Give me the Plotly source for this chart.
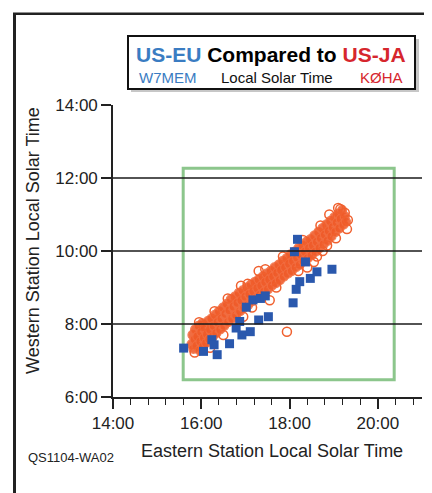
import plotly.graph_objects as go

# ---------------- data ----------------
x_ticks = [14, 16, 18, 20]
x_ticklabels = ["14:00", "16:00", "18:00", "20:00"]
y_ticks = [6, 8, 10, 12, 14]
y_ticklabels = ["6:00", "8:00", "10:00", "12:00", "14:00"]
grid_levels = [8, 10, 12]

# US-EU (W7MEM) - blue squares: eastern local solar time, western local solar time
eu_east = [15.60, 16.05, 16.24, 16.36, 16.64, 16.29, 16.79, 16.87, 16.92, 17.11, 17.02, 17.30,
           17.52, 17.17, 17.34, 17.45, 18.08, 18.15, 18.23, 18.36, 18.47, 18.62, 18.96, 18.11, 18.18]
eu_west = [7.34, 7.25, 7.57, 7.16, 7.46, 7.43, 7.89, 8.07, 7.70, 7.79, 8.46, 8.11,
           8.20, 8.66, 8.70, 8.77, 8.58, 8.95, 9.16, 9.70, 9.25, 9.43, 9.50, 9.98, 10.32]

# US-JA (K0HA) - orange filled circles
ja_east = [15.78, 15.80, 15.82, 15.85, 15.86, 15.89, 15.91, 15.94, 15.96, 15.98, 16.00, 16.02, 16.04, 16.06, 16.08,
           16.11, 16.13, 16.15, 16.18, 16.20, 16.23, 16.26, 16.28, 16.31, 16.34, 16.37, 16.40,
           16.43, 16.46, 16.49, 16.52, 16.55, 16.58, 16.61, 16.64, 16.67, 16.70, 16.73, 16.76, 16.79,
           16.82, 16.85, 16.88, 16.91, 16.94, 16.97, 17.00, 17.03, 17.06, 17.09, 17.12, 17.15, 17.18,
           17.21, 17.24, 17.27, 17.30, 17.33, 17.36, 17.39, 17.42, 17.45, 17.48, 17.51, 17.54, 17.57,
           17.60, 17.63, 17.66, 17.69, 17.72, 17.75, 17.78, 17.81, 17.84, 17.87, 17.90, 17.93, 17.96, 17.99,
           18.02, 18.05, 18.08, 18.11, 18.14, 18.17, 18.20, 18.23, 18.26, 18.29, 18.32, 18.35, 18.38, 18.41, 18.44, 18.47,
           18.50, 18.53, 18.56, 18.59, 18.62, 18.65, 18.68, 18.71, 18.74, 18.77, 18.80, 18.83, 18.86, 18.89, 18.92, 18.95, 18.98,
           19.01, 19.04, 19.07, 19.10, 19.13, 19.16, 19.19, 19.22, 19.25, 19.28]
ja_west = [7.45, 7.70, 7.32, 7.58, 7.85, 7.40, 7.66, 7.95, 7.28, 7.52, 7.78, 8.02, 7.38, 7.62, 7.90,
           7.48, 7.72, 8.08, 7.58, 7.85, 8.15, 7.65, 7.95, 8.25, 7.75, 8.05, 8.35,
           7.85, 8.15, 8.45, 7.95, 8.28, 8.55, 8.05, 8.38, 8.68, 8.15, 8.48, 8.75, 8.25,
           8.58, 8.85, 8.35, 8.65, 8.92, 8.45, 8.75, 9.00, 8.52, 8.82, 9.08, 8.62, 8.90,
           9.15, 8.70, 8.98, 9.22, 8.80, 9.05, 9.30, 8.88, 9.15, 9.38, 8.95, 9.22, 9.45,
           9.05, 9.30, 9.55, 9.12, 9.40, 9.62, 9.20, 9.48, 9.72, 9.30, 9.55, 9.80, 9.38, 9.65,
           9.90, 9.45, 9.72, 9.98, 9.55, 9.82, 10.08, 9.62, 9.90, 10.15, 9.72, 9.98, 10.25, 9.80, 10.08, 10.32,
           9.88, 10.15, 10.42, 9.98, 10.25, 10.52, 10.08, 10.35, 10.62, 10.18, 10.45, 10.72, 10.28, 10.55, 10.82, 10.40, 10.65,
           10.92, 10.52, 10.78, 11.02, 10.62, 10.88, 11.12, 10.72, 10.95, 10.80]

# US-JA (K0HA) - orange open circles
ja_open_east = [17.94, 18.55, 18.75, 19.30, 19.25, 18.40, 18.62, 17.55, 16.95, 16.50, 16.20, 15.85,
                19.05, 18.85, 19.32, 18.20, 17.70, 18.90, 19.10, 17.30, 16.90, 17.15,
                16.05, 16.30, 16.60, 17.05, 17.45, 17.85, 18.30, 18.70, 19.15, 15.95]
ja_open_west = [7.79, 9.70, 10.00, 10.60, 11.05, 9.55, 9.85, 8.65, 8.20, 7.70, 7.35, 7.22,
                10.35, 10.15, 10.85, 9.45, 9.00, 11.00, 11.18, 9.45, 9.05, 8.45,
                7.95, 8.35, 8.70, 9.10, 9.50, 9.85, 10.30, 10.70, 11.15, 8.05]

# region outline (green box) in data units
box_east = [15.59, 20.37]
box_west = [6.47, 12.27]

# ---------------- style ----------------
W, H = 432, 493
OFF = 8  # page body margin
ML, MR, MT, MB = 113 - OFF, 18, 105 - OFF, 104
PW, PH = W - ML - MR, H - MT - MB
FONT = "Liberation Sans, Arial, Helvetica, sans-serif"
BLUE_TXT = "#3a7cc2"
RED_TXT = "#d6262d"
ORANGE = "#ef5a28"
SQ_BLUE = "#2a58ad"


def px(xp):  # page pixel -> paper
    return (xp - OFF - ML) / PW


def py(yp):
    return (H - MB - (yp - OFF)) / PH


fig = go.Figure()

fig.add_trace(go.Scatter(
    x=ja_east, y=ja_west, mode="markers",
    marker=dict(symbol="circle", size=9, color=ORANGE, opacity=0.88,
                line=dict(width=1.2, color="#f26d40")),
    showlegend=False, name="US-JA"))
fig.add_trace(go.Scatter(
    x=ja_open_east, y=ja_open_west, mode="markers",
    marker=dict(symbol="circle-open", size=9, color="#f0602e", line=dict(width=1.5)),
    showlegend=False, hoverinfo="skip"))
fig.add_trace(go.Scatter(
    x=eu_east, y=eu_west, mode="markers",
    marker=dict(symbol="square", size=9, color=SQ_BLUE),
    showlegend=False, name="US-EU"))

shapes = []
# horizontal grid lines
for g in grid_levels:
    shapes.append(dict(type="line", xref="paper", yref="y", x0=0, x1=1, y0=g, y1=g,
                       line=dict(color="#1a1a1a", width=1.6), layer="above"))
# green box
shapes.append(dict(type="rect", xref="x", yref="y",
                   x0=box_east[0], x1=box_east[1], y0=box_west[0], y1=box_west[1],
                   line=dict(color="#8cc68c", width=3), layer="below"))
# outer frame (left and top)
shapes.append(dict(type="line", xref="paper", yref="paper",
                   x0=px(14.5), x1=px(14.5), y0=py(H + 20), y1=py(13.5),
                   line=dict(color="#222", width=3)))
shapes.append(dict(type="line", xref="paper", yref="paper",
                   x0=px(13), x1=px(W + 20), y0=py(13.8), y1=py(13.8),
                   line=dict(color="#222", width=2.6)))
# legend box shadow + box
shapes.append(dict(type="rect", xref="paper", yref="paper",
                   x0=px(131), x1=px(419), y0=py(92), y1=py(39),
                   line=dict(width=0), fillcolor="rgba(0,0,0,0.22)"))
shapes.append(dict(type="rect", xref="paper", yref="paper",
                   x0=px(128), x1=px(415), y0=py(89), y1=py(36),
                   line=dict(color="#111", width=2), fillcolor="white"))

annotations = [
    dict(xref="paper", yref="paper", x=px(270.5), y=py(54), xanchor="center", yanchor="middle",
         text=f"<b><span style='color:{BLUE_TXT}'>US-EU</span> Compared to "
              f"<span style='color:{RED_TXT}'>US-JA</span></b>",
         showarrow=False, font=dict(family=FONT, size=21, color="#000")),
    dict(xref="paper", yref="paper", x=px(137), y=py(77), xanchor="left", yanchor="middle",
         text="W7MEM", showarrow=False, font=dict(family=FONT, size=15, color=BLUE_TXT)),
    dict(xref="paper", yref="paper", x=px(276.5), y=py(77), xanchor="center", yanchor="middle",
         text="Local Solar Time", showarrow=False, font=dict(family=FONT, size=15, color="#111")),
    dict(xref="paper", yref="paper", x=px(405), y=py(77), xanchor="right", yanchor="middle",
         text="KØHA", showarrow=False, font=dict(family=FONT, size=15, color=RED_TXT)),
    dict(xref="paper", yref="paper", x=px(26), y=py(457), xanchor="left", yanchor="middle",
         text="QS1104-WA02", showarrow=False, font=dict(family=FONT, size=13, color="#222")),
    dict(xref="paper", yref="paper", x=px(272), y=py(451), xanchor="center", yanchor="middle",
         text="Eastern Station Local Solar Time", showarrow=False,
         font=dict(family=FONT, size=18, color="#222")),
    dict(xref="paper", yref="paper", x=px(33), y=py(241), xanchor="center", yanchor="middle",
         text="Western Station Local Solar Time", showarrow=False, textangle=-90,
         font=dict(family=FONT, size=18, color="#222")),
]

fig.update_layout(
    width=W, height=H,
    margin=dict(l=ML, r=MR, t=MT, b=MB),
    paper_bgcolor="white", plot_bgcolor="white",
    shapes=shapes, annotations=annotations,
    font=dict(family=FONT, color="#222"),
    xaxis=dict(range=[14, 21], tickmode="array", tickvals=x_ticks, ticktext=x_ticklabels,
               ticks="outside", ticklen=10, tickwidth=1.5, tickcolor="#222",
               showline=True, linecolor="#222", linewidth=1.6, showgrid=False, zeroline=False,
               tickfont=dict(family=FONT, size=17, color="#222"),
               minor=dict(tick0=14, dtick=0.4, ticks="outside", ticklen=6, tickwidth=1.2,
                          tickcolor="#222", showgrid=False)),
    yaxis=dict(range=[6, 14], tickmode="array", tickvals=y_ticks, ticktext=y_ticklabels,
               ticks="outside", ticklen=10, tickwidth=1.5, tickcolor="#222",
               showline=True, linecolor="#222", linewidth=1.6, showgrid=False, zeroline=False,
               tickfont=dict(family=FONT, size=17, color="#222")),
)

fig.write_html("out.html")
